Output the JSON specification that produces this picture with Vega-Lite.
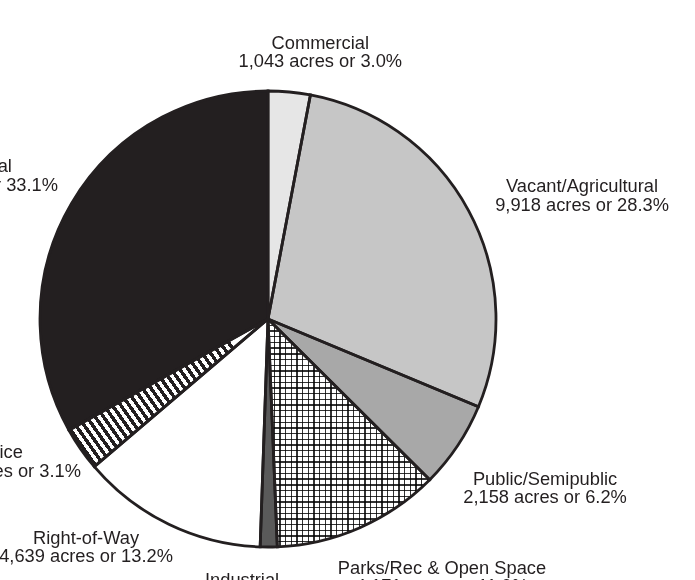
{
  "$schema": "https://vega.github.io/schema/vega-lite/v6.json",
  "width": 536,
  "height": 638,
  "autosize": {"type": "none"},
  "padding": {"left": 0, "top": 0, "right": 159, "bottom": 0},
  "background": "white",
  "view": {"stroke": null},
  "config": {
    "text": {"font": "Liberation Sans", "fontSize": 18.3, "lineHeight": 18.3, "fill": "#231f20", "align": "center", "baseline": "middle", "lineBreak": "\n"}
  },
  "data": {
    "values": [
      {"idx": 1, "category": "Commercial", "acres": 1043, "label": "Commercial\n1,043 acres or 3.0%"},
      {"idx": 2, "category": "Vacant/Agricultural", "acres": 9918, "label": "Vacant/Agricultural\n9,918 acres or 28.3%"},
      {"idx": 3, "category": "Public/Semipublic", "acres": 2158, "label": "Public/Semipublic\n2,158 acres or 6.2%"},
      {"idx": 4, "category": "Parks/Rec & Open Space", "acres": 4171, "label": "Parks/Rec & Open Space\n4,171 acres or 11.9%"},
      {"idx": 5, "category": "Industrial", "acres": 420, "label": "Industrial\n420 acres or 1.2%"},
      {"idx": 6, "category": "Right-of-Way", "acres": 4639, "label": "Right-of-Way\n4,639 acres or 13.2%"},
      {"idx": 7, "category": "Office", "acres": 1087, "label": "Office\n1,087 acres or 3.1%"},
      {"idx": 8, "category": "Residential", "acres": 11600, "label": "Residential\n11,600 acres or 33.1%"}
    ]
  },
  "encoding": {
    "theta": {"field": "acres", "type": "quantitative", "stack": true},
    "order": {"field": "idx", "type": "quantitative"},
    "detail": {"field": "category", "type": "nominal"}
  },
  "layer": [
    {
      "mark": {"type": "arc", "outerRadius": 228, "strokeWidth": 0},
      "encoding": {
        "color": {
          "field": "category", "type": "nominal", "legend": null,
          "scale": {
            "domain": ["Commercial", "Vacant/Agricultural", "Public/Semipublic", "Parks/Rec & Open Space", "Industrial", "Right-of-Way", "Office", "Residential"],
            "range": ["#e6e6e6", "#c6c6c6", "#a8a8a8", "#ffffff", "#5a5a5a", "#ffffff", "#ffffff", "#231f20"]
          }
        }
      }
    },
    {
      "mark": {
        "type": "arc", "outerRadius": 228, "strokeWidth": 0,
        "fill": {"gradient": "linear", "x1": 0, "y1": 1, "x2": 1, "y2": 0.48, "stops": [
          {"offset":0,"color":"#231f20"},{"offset":0.0167,"color":"#231f20"},{"offset":0.0167,"color":"#fff"},{"offset":0.0333,"color":"#fff"},
          {"offset":0.0333,"color":"#231f20"},{"offset":0.05,"color":"#231f20"},{"offset":0.05,"color":"#fff"},{"offset":0.0667,"color":"#fff"},
          {"offset":0.0667,"color":"#231f20"},{"offset":0.0833,"color":"#231f20"},{"offset":0.0833,"color":"#fff"},{"offset":0.1,"color":"#fff"},
          {"offset":0.1,"color":"#231f20"},{"offset":0.1167,"color":"#231f20"},{"offset":0.1167,"color":"#fff"},{"offset":0.1333,"color":"#fff"},
          {"offset":0.1333,"color":"#231f20"},{"offset":0.15,"color":"#231f20"},{"offset":0.15,"color":"#fff"},{"offset":0.1667,"color":"#fff"},
          {"offset":0.1667,"color":"#231f20"},{"offset":0.1833,"color":"#231f20"},{"offset":0.1833,"color":"#fff"},{"offset":0.2,"color":"#fff"},
          {"offset":0.2,"color":"#231f20"},{"offset":0.2167,"color":"#231f20"},{"offset":0.2167,"color":"#fff"},{"offset":0.2333,"color":"#fff"},
          {"offset":0.2333,"color":"#231f20"},{"offset":0.25,"color":"#231f20"},{"offset":0.25,"color":"#fff"},{"offset":0.2667,"color":"#fff"},
          {"offset":0.2667,"color":"#231f20"},{"offset":0.2833,"color":"#231f20"},{"offset":0.2833,"color":"#fff"},{"offset":0.3,"color":"#fff"},
          {"offset":0.3,"color":"#231f20"},{"offset":0.3167,"color":"#231f20"},{"offset":0.3167,"color":"#fff"},{"offset":0.3333,"color":"#fff"},
          {"offset":0.3333,"color":"#231f20"},{"offset":0.35,"color":"#231f20"},{"offset":0.35,"color":"#fff"},{"offset":0.3667,"color":"#fff"},
          {"offset":0.3667,"color":"#231f20"},{"offset":0.3833,"color":"#231f20"},{"offset":0.3833,"color":"#fff"},{"offset":0.4,"color":"#fff"},
          {"offset":0.4,"color":"#231f20"},{"offset":0.4167,"color":"#231f20"},{"offset":0.4167,"color":"#fff"},{"offset":0.4333,"color":"#fff"},
          {"offset":0.4333,"color":"#231f20"},{"offset":0.45,"color":"#231f20"},{"offset":0.45,"color":"#fff"},{"offset":0.4667,"color":"#fff"},
          {"offset":0.4667,"color":"#231f20"},{"offset":0.4833,"color":"#231f20"},{"offset":0.4833,"color":"#fff"},{"offset":0.5,"color":"#fff"},
          {"offset":0.5,"color":"#231f20"},{"offset":0.5167,"color":"#231f20"},{"offset":0.5167,"color":"#fff"},{"offset":0.5333,"color":"#fff"},
          {"offset":0.5333,"color":"#231f20"},{"offset":0.55,"color":"#231f20"},{"offset":0.55,"color":"#fff"},{"offset":0.5667,"color":"#fff"},
          {"offset":0.5667,"color":"#231f20"},{"offset":0.5833,"color":"#231f20"},{"offset":0.5833,"color":"#fff"},{"offset":0.6,"color":"#fff"},
          {"offset":0.6,"color":"#231f20"},{"offset":0.6167,"color":"#231f20"},{"offset":0.6167,"color":"#fff"},{"offset":0.6333,"color":"#fff"},
          {"offset":0.6333,"color":"#231f20"},{"offset":0.65,"color":"#231f20"},{"offset":0.65,"color":"#fff"},{"offset":0.6667,"color":"#fff"},
          {"offset":0.6667,"color":"#231f20"},{"offset":0.6833,"color":"#231f20"},{"offset":0.6833,"color":"#fff"},{"offset":0.7,"color":"#fff"},
          {"offset":0.7,"color":"#231f20"},{"offset":0.7167,"color":"#231f20"},{"offset":0.7167,"color":"#fff"},{"offset":0.7333,"color":"#fff"},
          {"offset":0.7333,"color":"#231f20"},{"offset":0.75,"color":"#231f20"},{"offset":0.75,"color":"#fff"},{"offset":0.7667,"color":"#fff"},
          {"offset":0.7667,"color":"#231f20"},{"offset":0.7833,"color":"#231f20"},{"offset":0.7833,"color":"#fff"},{"offset":0.8,"color":"#fff"},
          {"offset":0.8,"color":"#231f20"},{"offset":0.8167,"color":"#231f20"},{"offset":0.8167,"color":"#fff"},{"offset":0.8333,"color":"#fff"},
          {"offset":0.8333,"color":"#231f20"},{"offset":0.85,"color":"#231f20"},{"offset":0.85,"color":"#fff"},{"offset":0.8667,"color":"#fff"},
          {"offset":0.8667,"color":"#231f20"},{"offset":0.8833,"color":"#231f20"},{"offset":0.8833,"color":"#fff"},{"offset":0.9,"color":"#fff"},
          {"offset":0.9,"color":"#231f20"},{"offset":0.9167,"color":"#231f20"},{"offset":0.9167,"color":"#fff"},{"offset":0.9333,"color":"#fff"},
          {"offset":0.9333,"color":"#231f20"},{"offset":0.95,"color":"#231f20"},{"offset":0.95,"color":"#fff"},{"offset":0.9667,"color":"#fff"},
          {"offset":0.9667,"color":"#231f20"},{"offset":0.9833,"color":"#231f20"},{"offset":0.9833,"color":"#fff"},{"offset":1,"color":"#fff"}
        ]}
      },
      "encoding": {"opacity": {"condition": {"test": "datum.category === 'Office'", "value": 1}, "value": 0}}
    },
    {
      "mark": {
        "type": "arc", "outerRadius": 228, "strokeWidth": 0,
        "fill": {"gradient": "linear", "x1": 0, "y1": 0, "x2": 1, "y2": 0, "stops": [
          {"offset":0,"color":"#333"},{"offset":0.008,"color":"#333"},{"offset":0.008,"color":"#fff"},{"offset":0.035,"color":"#fff"},
          {"offset":0.035,"color":"#333"},{"offset":0.043,"color":"#333"},{"offset":0.043,"color":"#fff"},{"offset":0.07,"color":"#fff"},
          {"offset":0.07,"color":"#333"},{"offset":0.078,"color":"#333"},{"offset":0.078,"color":"#fff"},{"offset":0.105,"color":"#fff"},
          {"offset":0.105,"color":"#333"},{"offset":0.113,"color":"#333"},{"offset":0.113,"color":"#fff"},{"offset":0.14,"color":"#fff"},
          {"offset":0.14,"color":"#333"},{"offset":0.148,"color":"#333"},{"offset":0.148,"color":"#fff"},{"offset":0.175,"color":"#fff"},
          {"offset":0.175,"color":"#333"},{"offset":0.183,"color":"#333"},{"offset":0.183,"color":"#fff"},{"offset":0.21,"color":"#fff"},
          {"offset":0.21,"color":"#333"},{"offset":0.218,"color":"#333"},{"offset":0.218,"color":"#fff"},{"offset":0.245,"color":"#fff"},
          {"offset":0.245,"color":"#333"},{"offset":0.253,"color":"#333"},{"offset":0.253,"color":"#fff"},{"offset":0.28,"color":"#fff"},
          {"offset":0.28,"color":"#333"},{"offset":0.288,"color":"#333"},{"offset":0.288,"color":"#fff"},{"offset":0.315,"color":"#fff"},
          {"offset":0.315,"color":"#333"},{"offset":0.323,"color":"#333"},{"offset":0.323,"color":"#fff"},{"offset":0.35,"color":"#fff"},
          {"offset":0.35,"color":"#333"},{"offset":0.358,"color":"#333"},{"offset":0.358,"color":"#fff"},{"offset":0.385,"color":"#fff"},
          {"offset":0.385,"color":"#333"},{"offset":0.393,"color":"#333"},{"offset":0.393,"color":"#fff"},{"offset":0.42,"color":"#fff"},
          {"offset":0.42,"color":"#333"},{"offset":0.428,"color":"#333"},{"offset":0.428,"color":"#fff"},{"offset":0.455,"color":"#fff"},
          {"offset":0.455,"color":"#333"},{"offset":0.463,"color":"#333"},{"offset":0.463,"color":"#fff"},{"offset":0.49,"color":"#fff"},
          {"offset":0.49,"color":"#333"},{"offset":0.498,"color":"#333"},{"offset":0.498,"color":"#fff"},{"offset":0.525,"color":"#fff"},
          {"offset":0.525,"color":"#333"},{"offset":0.533,"color":"#333"},{"offset":0.533,"color":"#fff"},{"offset":0.56,"color":"#fff"},
          {"offset":0.56,"color":"#333"},{"offset":0.568,"color":"#333"},{"offset":0.568,"color":"#fff"},{"offset":0.595,"color":"#fff"},
          {"offset":0.595,"color":"#333"},{"offset":0.603,"color":"#333"},{"offset":0.603,"color":"#fff"},{"offset":0.63,"color":"#fff"},
          {"offset":0.63,"color":"#333"},{"offset":0.638,"color":"#333"},{"offset":0.638,"color":"#fff"},{"offset":0.665,"color":"#fff"},
          {"offset":0.665,"color":"#333"},{"offset":0.673,"color":"#333"},{"offset":0.673,"color":"#fff"},{"offset":0.7,"color":"#fff"},
          {"offset":0.7,"color":"#333"},{"offset":0.708,"color":"#333"},{"offset":0.708,"color":"#fff"},{"offset":0.735,"color":"#fff"},
          {"offset":0.735,"color":"#333"},{"offset":0.743,"color":"#333"},{"offset":0.743,"color":"#fff"},{"offset":0.77,"color":"#fff"},
          {"offset":0.77,"color":"#333"},{"offset":0.778,"color":"#333"},{"offset":0.778,"color":"#fff"},{"offset":0.805,"color":"#fff"},
          {"offset":0.805,"color":"#333"},{"offset":0.813,"color":"#333"},{"offset":0.813,"color":"#fff"},{"offset":0.84,"color":"#fff"},
          {"offset":0.84,"color":"#333"},{"offset":0.848,"color":"#333"},{"offset":0.848,"color":"#fff"},{"offset":0.875,"color":"#fff"},
          {"offset":0.875,"color":"#333"},{"offset":0.883,"color":"#333"},{"offset":0.883,"color":"#fff"},{"offset":0.91,"color":"#fff"},
          {"offset":0.91,"color":"#333"},{"offset":0.918,"color":"#333"},{"offset":0.918,"color":"#fff"},{"offset":0.945,"color":"#fff"},
          {"offset":0.945,"color":"#333"},{"offset":0.953,"color":"#333"},{"offset":0.953,"color":"#fff"},{"offset":0.98,"color":"#fff"},
          {"offset":0.98,"color":"#333"},{"offset":0.988,"color":"#333"},{"offset":0.988,"color":"#fff"},{"offset":1,"color":"#fff"}
        ]}
      },
      "encoding": {"opacity": {"condition": {"test": "datum.category === 'Parks/Rec & Open Space'", "value": 1}, "value": 0}}
    },
    {
      "mark": {
        "type": "arc", "outerRadius": 228, "strokeWidth": 0, "blend": "multiply",
        "fill": {"gradient": "linear", "x1": 0, "y1": 0, "x2": 0, "y2": 1, "stops": [
          {"offset":0,"color":"#333"},{"offset":0.006,"color":"#333"},{"offset":0.006,"color":"#fff"},{"offset":0.025,"color":"#fff"},
          {"offset":0.025,"color":"#333"},{"offset":0.031,"color":"#333"},{"offset":0.031,"color":"#fff"},{"offset":0.05,"color":"#fff"},
          {"offset":0.05,"color":"#333"},{"offset":0.056,"color":"#333"},{"offset":0.056,"color":"#fff"},{"offset":0.075,"color":"#fff"},
          {"offset":0.075,"color":"#333"},{"offset":0.081,"color":"#333"},{"offset":0.081,"color":"#fff"},{"offset":0.1,"color":"#fff"},
          {"offset":0.1,"color":"#333"},{"offset":0.106,"color":"#333"},{"offset":0.106,"color":"#fff"},{"offset":0.125,"color":"#fff"},
          {"offset":0.125,"color":"#333"},{"offset":0.131,"color":"#333"},{"offset":0.131,"color":"#fff"},{"offset":0.15,"color":"#fff"},
          {"offset":0.15,"color":"#333"},{"offset":0.156,"color":"#333"},{"offset":0.156,"color":"#fff"},{"offset":0.175,"color":"#fff"},
          {"offset":0.175,"color":"#333"},{"offset":0.181,"color":"#333"},{"offset":0.181,"color":"#fff"},{"offset":0.2,"color":"#fff"},
          {"offset":0.2,"color":"#333"},{"offset":0.206,"color":"#333"},{"offset":0.206,"color":"#fff"},{"offset":0.225,"color":"#fff"},
          {"offset":0.225,"color":"#333"},{"offset":0.231,"color":"#333"},{"offset":0.231,"color":"#fff"},{"offset":0.25,"color":"#fff"},
          {"offset":0.25,"color":"#333"},{"offset":0.256,"color":"#333"},{"offset":0.256,"color":"#fff"},{"offset":0.275,"color":"#fff"},
          {"offset":0.275,"color":"#333"},{"offset":0.281,"color":"#333"},{"offset":0.281,"color":"#fff"},{"offset":0.3,"color":"#fff"},
          {"offset":0.3,"color":"#333"},{"offset":0.306,"color":"#333"},{"offset":0.306,"color":"#fff"},{"offset":0.325,"color":"#fff"},
          {"offset":0.325,"color":"#333"},{"offset":0.331,"color":"#333"},{"offset":0.331,"color":"#fff"},{"offset":0.35,"color":"#fff"},
          {"offset":0.35,"color":"#333"},{"offset":0.356,"color":"#333"},{"offset":0.356,"color":"#fff"},{"offset":0.375,"color":"#fff"},
          {"offset":0.375,"color":"#333"},{"offset":0.381,"color":"#333"},{"offset":0.381,"color":"#fff"},{"offset":0.4,"color":"#fff"},
          {"offset":0.4,"color":"#333"},{"offset":0.406,"color":"#333"},{"offset":0.406,"color":"#fff"},{"offset":0.425,"color":"#fff"},
          {"offset":0.425,"color":"#333"},{"offset":0.431,"color":"#333"},{"offset":0.431,"color":"#fff"},{"offset":0.45,"color":"#fff"},
          {"offset":0.45,"color":"#333"},{"offset":0.456,"color":"#333"},{"offset":0.456,"color":"#fff"},{"offset":0.475,"color":"#fff"},
          {"offset":0.475,"color":"#333"},{"offset":0.481,"color":"#333"},{"offset":0.481,"color":"#fff"},{"offset":0.5,"color":"#fff"},
          {"offset":0.5,"color":"#333"},{"offset":0.506,"color":"#333"},{"offset":0.506,"color":"#fff"},{"offset":0.525,"color":"#fff"},
          {"offset":0.525,"color":"#333"},{"offset":0.531,"color":"#333"},{"offset":0.531,"color":"#fff"},{"offset":0.55,"color":"#fff"},
          {"offset":0.55,"color":"#333"},{"offset":0.556,"color":"#333"},{"offset":0.556,"color":"#fff"},{"offset":0.575,"color":"#fff"},
          {"offset":0.575,"color":"#333"},{"offset":0.581,"color":"#333"},{"offset":0.581,"color":"#fff"},{"offset":0.6,"color":"#fff"},
          {"offset":0.6,"color":"#333"},{"offset":0.606,"color":"#333"},{"offset":0.606,"color":"#fff"},{"offset":0.625,"color":"#fff"},
          {"offset":0.625,"color":"#333"},{"offset":0.631,"color":"#333"},{"offset":0.631,"color":"#fff"},{"offset":0.65,"color":"#fff"},
          {"offset":0.65,"color":"#333"},{"offset":0.656,"color":"#333"},{"offset":0.656,"color":"#fff"},{"offset":0.675,"color":"#fff"},
          {"offset":0.675,"color":"#333"},{"offset":0.681,"color":"#333"},{"offset":0.681,"color":"#fff"},{"offset":0.7,"color":"#fff"},
          {"offset":0.7,"color":"#333"},{"offset":0.706,"color":"#333"},{"offset":0.706,"color":"#fff"},{"offset":0.725,"color":"#fff"},
          {"offset":0.725,"color":"#333"},{"offset":0.731,"color":"#333"},{"offset":0.731,"color":"#fff"},{"offset":0.75,"color":"#fff"},
          {"offset":0.75,"color":"#333"},{"offset":0.756,"color":"#333"},{"offset":0.756,"color":"#fff"},{"offset":0.775,"color":"#fff"},
          {"offset":0.775,"color":"#333"},{"offset":0.781,"color":"#333"},{"offset":0.781,"color":"#fff"},{"offset":0.8,"color":"#fff"},
          {"offset":0.8,"color":"#333"},{"offset":0.806,"color":"#333"},{"offset":0.806,"color":"#fff"},{"offset":0.825,"color":"#fff"},
          {"offset":0.825,"color":"#333"},{"offset":0.831,"color":"#333"},{"offset":0.831,"color":"#fff"},{"offset":0.85,"color":"#fff"},
          {"offset":0.85,"color":"#333"},{"offset":0.856,"color":"#333"},{"offset":0.856,"color":"#fff"},{"offset":0.875,"color":"#fff"},
          {"offset":0.875,"color":"#333"},{"offset":0.881,"color":"#333"},{"offset":0.881,"color":"#fff"},{"offset":0.9,"color":"#fff"},
          {"offset":0.9,"color":"#333"},{"offset":0.906,"color":"#333"},{"offset":0.906,"color":"#fff"},{"offset":0.925,"color":"#fff"},
          {"offset":0.925,"color":"#333"},{"offset":0.931,"color":"#333"},{"offset":0.931,"color":"#fff"},{"offset":0.95,"color":"#fff"},
          {"offset":0.95,"color":"#333"},{"offset":0.956,"color":"#333"},{"offset":0.956,"color":"#fff"},{"offset":0.975,"color":"#fff"},
          {"offset":0.975,"color":"#333"},{"offset":0.981,"color":"#333"},{"offset":0.981,"color":"#fff"},{"offset":1,"color":"#fff"}
        ]}
      },
      "encoding": {"opacity": {"condition": {"test": "datum.category === 'Parks/Rec & Open Space'", "value": 1}, "value": 0}}
    },
    {
      "mark": {"type": "arc", "outerRadius": 228, "fillOpacity": 0, "stroke": "#231f20", "strokeWidth": 2.8}
    },
    {
      "mark": {"type": "text", "radius": 270.7, "dx": 27, "dy": -5.5},
      "encoding": {"text": {"condition": {"test": "datum.category === 'Commercial'", "field": "label"}, "value": ""}}
    },
    {
      "mark": {"type": "text", "radius": 335.2, "dx": 19, "dy": 27.5},
      "encoding": {"text": {"condition": {"test": "datum.category === 'Vacant/Agricultural'", "field": "label"}, "value": ""}}
    },
    {
      "mark": {"type": "text", "radius": 323.9, "dx": 7.6, "dy": -18.8},
      "encoding": {"text": {"condition": {"test": "datum.category === 'Public/Semipublic'", "field": "label"}, "value": ""}}
    },
    {
      "mark": {"type": "text", "radius": 311, "dx": 48.6, "dy": -35.1},
      "encoding": {"text": {"condition": {"test": "datum.category === 'Parks/Rec & Open Space'", "field": "label"}, "value": ""}}
    },
    {
      "mark": {"type": "text", "radius": 270, "dx": -26.8, "dy": -7.5},
      "encoding": {"text": {"condition": {"test": "datum.category === 'Industrial'", "field": "label"}, "value": ""}}
    },
    {
      "mark": {"type": "text", "radius": 283.6, "dx": -58.5, "dy": -35.8},
      "encoding": {"text": {"condition": {"test": "datum.category === 'Right-of-Way'", "field": "label"}, "value": ""}}
    },
    {
      "mark": {"type": "text", "radius": 294.5, "dx": -27, "dy": -33.5},
      "encoding": {"text": {"condition": {"test": "datum.category === 'Office'", "field": "label"}, "value": ""}}
    },
    {
      "mark": {"type": "text", "radius": 330.8, "dx": -16, "dy": 15.9},
      "encoding": {"text": {"condition": {"test": "datum.category === 'Residential'", "field": "label"}, "value": ""}}
    }
  ]
}
